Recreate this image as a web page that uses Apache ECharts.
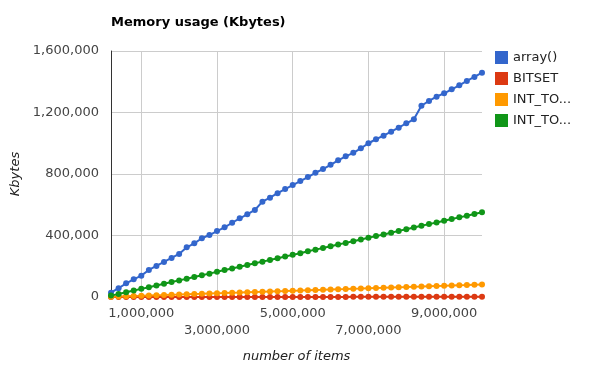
<!DOCTYPE html>
<html>
<head>
<meta charset="utf-8">
<script src="https://cdn.jsdelivr.net/npm/echarts@6/dist/echarts.min.js"></script>
<style>
  html, body { margin: 0; padding: 0; background: #fff; }
  #main { width: 591px; height: 377px; }
</style>
</head>
<body>
<div id="main"></div>
<script>
// number of items (thousands)
var itemsK = [200, 400, 600, 800, 1000, 1200, 1400, 1600, 1800, 2000,
              2200, 2400, 2600, 2800, 3000, 3200, 3400, 3600, 3800, 4000,
              4200, 4400, 4600, 4800, 5000, 5200, 5400, 5600, 5800, 6000,
              6200, 6400, 6600, 6800, 7000, 7200, 7400, 7600, 7800, 8000,
              8200, 8400, 8600, 8800, 9000, 9200, 9400, 9600, 9800, 10000];

// memory usage, in thousands of Kbytes
var arrayK = [28, 57, 89, 115, 139, 176, 202, 228, 254, 280,
              323, 349, 382, 403, 429, 453, 483, 512, 538, 566,
              620, 646, 675, 702, 728, 754, 780, 808, 832, 860,
              889, 915, 938, 967, 1000, 1026, 1049, 1075, 1101, 1130,
              1156, 1244, 1275, 1303, 1325, 1351, 1377, 1405, 1431, 1459];
var bitsetK = [0.1, 0.1, 0.1, 0.1, 0.2, 0.2, 0.2, 0.2, 0.3, 0.3,
               0.3, 0.3, 0.4, 0.4, 0.4, 0.4, 0.5, 0.5, 0.5, 0.5,
               0.6, 0.6, 0.6, 0.6, 0.7, 0.7, 0.7, 0.7, 0.8, 0.8,
               0.8, 0.8, 0.9, 0.9, 0.9, 0.9, 1.0, 1.0, 1.0, 1.0,
               1.1, 1.1, 1.1, 1.1, 1.2, 1.2, 1.2, 1.2, 1.3, 1.3];
var intToAK = [2, 3, 5, 7, 8, 10, 12, 13, 15, 16,
               18, 20, 21, 23, 25, 26, 28, 29, 31, 33,
               34, 36, 38, 39, 41, 42, 44, 46, 47, 49,
               51, 52, 54, 55, 57, 59, 60, 62, 64, 65,
               67, 68, 70, 72, 73, 75, 77, 78, 80, 82];
var intToBK = [9, 20, 31, 42, 53, 64, 75, 86, 97, 108,
               119, 130, 141, 152, 164, 175, 186, 197, 208, 219,
               230, 241, 252, 263, 274, 285, 297, 308, 319, 330,
               341, 352, 363, 374, 385, 396, 407, 418, 430, 441,
               452, 463, 474, 485, 496, 507, 518, 529, 540, 551];

// the legend shows the last two names cut to "INT_TO..."
var seriesNames = ['array()', 'BITSET', 'INT_TO_INT_MAP', 'INT_TO_OBJECT_MAP'];
var seriesColors = ['#3366cc', '#dc3912', '#ff9900', '#109618'];
var seriesData = [arrayK, bitsetK, intToAK, intToBK];

var xTicks = [1000000, 3000000, 5000000, 7000000, 9000000];

var font = 'DejaVu Sans';

function fmt(v) {
  return Math.round(v).toString().replace(/\B(?=(\d{3})+(?!\d))/g, ',');
}

var series = seriesNames.map(function (name, i) {
  return {
    name: name,
    type: 'line',
    symbol: 'circle',
    symbolSize: 6,
    color: seriesColors[i],
    lineStyle: { width: 2 },
    data: itemsK.map(function (x, j) { return [x * 1000, seriesData[i][j] * 1000]; })
  };
});

var myChart = echarts.init(document.getElementById('main'));
var option = {
  animation: false,
  backgroundColor: '#fff',
  title: {
    text: 'Memory usage (Kbytes)',
    left: 106,
    top: 11,
    textStyle: { fontFamily: font, fontSize: 13, fontWeight: 'bold', color: '#000' }
  },
  legend: {
    orient: 'vertical',
    left: 490,
    top: 46,
    icon: 'rect',
    itemWidth: 13,
    itemHeight: 13,
    itemGap: 8,
    data: seriesNames,
    formatter: function (name) {
      return name.length > 8 ? name.slice(0, 6) + '...' : name;
    },
    textStyle: { fontFamily: font, fontSize: 13, color: '#222' }
  },
  grid: { left: 111, top: 51, right: 109, bottom: 80, containLabel: false },
  xAxis: {
    type: 'value',
    min: 200000,
    max: 10000000,
    name: 'number of items',
    nameLocation: 'middle',
    nameGap: 53,
    nameTextStyle: { fontFamily: font, fontSize: 13, fontStyle: 'italic', color: '#222' },
    axisLine: { show: true, lineStyle: { color: '#ccc' } },
    axisTick: { show: false, customValues: xTicks },
    axisLabel: {
      customValues: xTicks,
      margin: 8,
      lineHeight: 17,
      fontFamily: font,
      fontSize: 13,
      color: '#444',
      formatter: function (v) {
        var i = xTicks.indexOf(v);
        return (i % 2 === 1 ? '\n' : '') + fmt(v);
      }
    },
    splitLine: { show: true, lineStyle: { color: '#ccc' } }
  },
  yAxis: {
    type: 'value',
    min: 0,
    max: 1600000,
    interval: 400000,
    name: 'Kbytes',
    nameLocation: 'middle',
    nameGap: 88,
    nameTextStyle: { fontFamily: font, fontSize: 13, fontStyle: 'italic', color: '#222' },
    axisLine: { show: true, lineStyle: { color: '#333' } },
    axisTick: { show: false },
    axisLabel: {
      margin: 12,
      fontFamily: font,
      fontSize: 13,
      color: '#444',
      formatter: function (v) { return fmt(v); }
    },
    splitLine: { show: true, lineStyle: { color: '#ccc' } }
  },
  series: series
};
myChart.setOption(option);
</script>
</body>
</html>
